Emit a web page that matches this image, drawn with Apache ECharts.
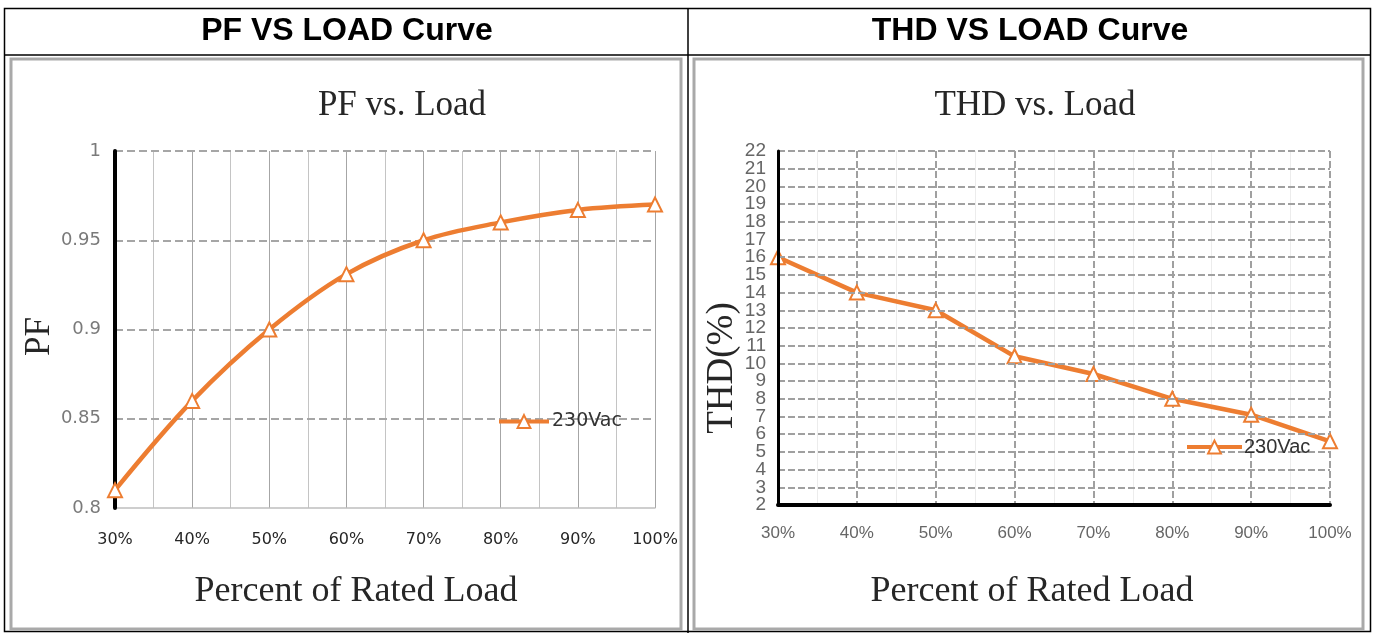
<!DOCTYPE html>
<html>
<head>
<meta charset="utf-8">
<script src="https://cdn.jsdelivr.net/npm/echarts@6/dist/echarts.min.js"></script>
<style>
html,body{margin:0;padding:0;background:#fff;}
#c{width:1375px;height:633px;}
</style>
</head>
<body>
<div id="c"></div>
<script>
// ---- data ----
const loadPct = [30, 40, 50, 60, 70, 80, 90, 100];          // Percent of rated load
const pfValues = [0.81, 0.86, 0.90, 0.931, 0.95, 0.96, 0.967, 0.97];
const thdValues = [16, 14, 13, 10.4, 9.4, 8, 7.1, 5.6];     // THD (%)
const seriesName = '230Vac';
const headerTitles = ['PF VS LOAD Curve', 'THD VS LOAD Curve'];
const chartTitles = ['PF vs. Load', 'THD vs. Load'];
const xAxisTitle = 'Percent of Rated Load';
const yAxisTitles = ['PF', 'THD(%)'];

const pfData = loadPct.map((x, i) => [x, pfValues[i]]);
const thdData = loadPct.map((x, i) => [x, thdValues[i]]);

const ORANGE = '#ED7D31';
const SERIF = '"Liberation Serif","Times New Roman",serif';
const VERDANA = '"DejaVu Sans", Verdana, sans-serif';
const CALIBRI = '"Liberation Sans", Arial, sans-serif';

const chart = echarts.init(document.getElementById('c'), null, {renderer: 'canvas'});

const thdLabelBase = {margin: 12, fontFamily: CALIBRI, fontSize: 19, color: '#666', showMinLabel: true, showMaxLabel: true, hideOverlap: false};

const option = {
  backgroundColor: '#fff',
  animation: false,
  graphic: [
    {type: 'rect', shape: {x: 4.5, y: 8.5, width: 1366, height: 623}, style: {fill: 'none', stroke: '#000', lineWidth: 1.5}, z: 1},
    {type: 'line', shape: {x1: 4, y1: 55, x2: 1371, y2: 55}, style: {stroke: '#000', lineWidth: 1.5}, z: 1},
    {type: 'line', shape: {x1: 688, y1: 8, x2: 688, y2: 633}, style: {stroke: '#000', lineWidth: 1.5}, z: 1},
    {type: 'rect', shape: {x: 11, y: 59, width: 670, height: 570}, style: {fill: 'none', stroke: '#a9a9a9', lineWidth: 3}, z: 1},
    {type: 'rect', shape: {x: 694, y: 59, width: 669, height: 570}, style: {fill: 'none', stroke: '#a9a9a9', lineWidth: 3}, z: 1},
    {type: 'text', x: 347, y: 31, style: {text: headerTitles[0], fill: '#000', font: 'bold 32px "Liberation Sans", Arial, sans-serif', textAlign: 'center', textVerticalAlign: 'middle'}, z: 2},
    {type: 'text', x: 1030, y: 31, style: {text: headerTitles[1], fill: '#000', font: 'bold 32px "Liberation Sans", Arial, sans-serif', textAlign: 'center', textVerticalAlign: 'middle'}, z: 2},
    {type: 'text', x: 402, y: 106, style: {text: chartTitles[0], fill: '#262626', font: '35px ' + SERIF, textAlign: 'center', textVerticalAlign: 'middle'}, z: 2},
    {type: 'text', x: 1035, y: 106, style: {text: chartTitles[1], fill: '#262626', font: '35px ' + SERIF, textAlign: 'center', textVerticalAlign: 'middle'}, z: 2}
  ],
  legend: [
    {
      data: [seriesName], left: 497, top: 412, padding: 0,
      itemWidth: 50, itemHeight: 16, itemGap: 4,
      lineStyle: {width: 4},
      textStyle: {fontFamily: VERDANA, fontSize: 19, color: '#333', padding: [0, 0, 0, -2]}
    },
    {
      data: [seriesName], left: 1185, top: 437, padding: 0,
      itemWidth: 55, itemHeight: 16,
      lineStyle: {width: 4},
      textStyle: {fontFamily: CALIBRI, fontSize: 20, color: '#333', padding: [0, 0, 0, -3]}
    }
  ],
  grid: [
    {left: 115, top: 151, width: 540, height: 357, containLabel: false},
    {left: 778, top: 151, width: 552, height: 354, containLabel: false}
  ],
  xAxis: [
    {
      type: 'value', gridIndex: 0, min: 30, max: 100, interval: 10,
      name: xAxisTitle, nameLocation: 'middle', nameGap: 66,
      nameTextStyle: {fontFamily: SERIF, fontSize: 36, color: '#262626', padding: [0, 58, 0, 0]},
      axisLine: {show: true, onZero: false, lineStyle: {color: '#bfbfbf', width: 1.5}},
      axisTick: {show: false},
      axisLabel: {formatter: v => v + '%', margin: 24, fontFamily: VERDANA, fontSize: 16, color: '#262626', showMinLabel: true, showMaxLabel: true},
      splitLine: {show: true, showMinLine: false, lineStyle: {color: '#a6a6a6', width: 1}},
      minorTick: {show: false, splitNumber: 2},
      minorSplitLine: {show: true, lineStyle: {color: '#c4c4c4', width: 1}}
    },
    {
      type: 'value', gridIndex: 1, min: 30, max: 100, interval: 10,
      name: xAxisTitle, nameLocation: 'middle', nameGap: 69,
      nameTextStyle: {fontFamily: SERIF, fontSize: 36, color: '#262626', padding: [0, 44, 0, 0]},
      axisLine: {show: true, onZero: false, lineStyle: {color: '#000', width: 4}},
      axisTick: {show: false},
      axisLabel: {formatter: v => v + '%', margin: 20, fontFamily: CALIBRI, fontSize: 17, color: '#666', showMinLabel: true, showMaxLabel: true},
      splitLine: {show: true, showMinLine: false, lineStyle: {color: '#a0a0a0', width: 2, type: [7, 3]}},
      minorTick: {show: false, splitNumber: 2},
      minorSplitLine: {show: true, lineStyle: {color: '#ececec', width: 1}},
      z: 3
    }
  ],
  yAxis: [
    {
      type: 'value', gridIndex: 0, min: 0.8, max: 1, interval: 0.05,
      name: yAxisTitles[0], nameLocation: 'middle', nameGap: 58,
      nameTextStyle: {fontFamily: SERIF, fontSize: 35, color: '#262626', padding: [0, 14, 0, 0]},
      axisLine: {show: true, onZero: false, lineStyle: {color: '#000', width: 4}},
      axisTick: {show: false},
      axisLabel: {margin: 14, fontFamily: VERDANA, fontSize: 18, color: '#7a7a7a', showMinLabel: true, showMaxLabel: true},
      splitLine: {show: true, showMinLine: false, lineStyle: {color: '#a6a6a6', width: 2, type: [8, 4]}},
      z: 3
    },
    {
      // THD axis: line, grid, even-valued labels
      type: 'value', gridIndex: 1, position: 'left', min: 2, max: 22, interval: 1,
      name: yAxisTitles[1], nameLocation: 'middle', nameGap: 32,
      nameTextStyle: {fontFamily: SERIF, fontSize: 37, color: '#262626', padding: [0, 80, 0, 0]},
      axisLine: {show: true, onZero: false, lineStyle: {color: '#000', width: 3}},
      axisTick: {show: false},
      axisLabel: Object.assign({}, thdLabelBase, {formatter: v => (Math.round(v) % 2 === 0 ? String(v) : '')}),
      splitLine: {show: true, showMinLine: false, lineStyle: {color: '#a0a0a0', width: 2, type: [7, 3]}},
      z: 4
    },
    {
      // same THD scale, odd-valued labels (kept separate so every tick label shows)
      type: 'value', gridIndex: 1, position: 'left', offset: 0, min: 2, max: 22, interval: 1,
      axisLine: {show: false, onZero: false},
      axisTick: {show: false},
      axisLabel: Object.assign({}, thdLabelBase, {formatter: v => (Math.round(v) % 2 === 1 ? String(v) : '')}),
      splitLine: {show: false}
    }
  ],
  series: [
    {
      name: seriesName, type: 'line', xAxisIndex: 0, yAxisIndex: 0,
      data: pfData, smooth: 0.35, clip: false,
      symbol: 'emptyTriangle', symbolSize: 14,
      lineStyle: {color: ORANGE, width: 4.5},
      itemStyle: {color: ORANGE, borderColor: ORANGE, borderWidth: 2}
    },
    {
      name: seriesName, type: 'line', xAxisIndex: 1, yAxisIndex: 1,
      data: thdData, smooth: false, clip: false,
      symbol: 'emptyTriangle', symbolSize: 14,
      lineStyle: {color: ORANGE, width: 4.5},
      itemStyle: {color: ORANGE, borderColor: ORANGE, borderWidth: 2}
    }
  ]
};
chart.setOption(option);
</script>
</body>
</html>
